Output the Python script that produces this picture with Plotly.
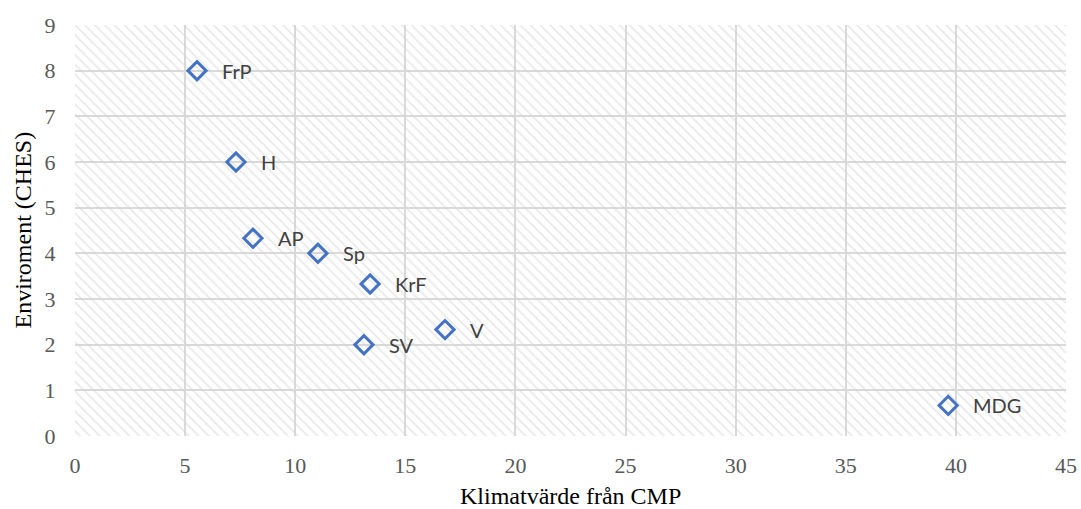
import plotly.graph_objects as go

labels = ["FrP", "H", "AP", "Sp", "KrF", "SV", "V", "MDG"]
x_vals = [5.54, 7.31, 8.08, 11.03, 13.4, 13.12, 16.8, 39.65]
y_vals = [8.0, 6.0, 4.33, 4.0, 3.33, 2.0, 2.33, 0.67]

x_range = [0, 45]
y_range = [0, 9]
x_title = "Klimatvärde från CMP"
y_title = "Enviroment (CHES)"

serif = "'Liberation Serif', 'Times New Roman', serif"
label_font = dict(family="Lato, 'Open Sans', sans-serif", size=20, color="#404040")

fig = go.Figure()

# hatched plot-area background
fig.add_trace(go.Scatter(
    x=[x_range[0], x_range[1], x_range[1], x_range[0], x_range[0]],
    y=[y_range[0], y_range[0], y_range[1], y_range[1], y_range[0]],
    mode="lines", line=dict(width=0), fill="toself",
    fillcolor="rgba(0,0,0,0)",
    fillpattern=dict(shape="\\", fgcolor="#d3d3d3", bgcolor="rgba(0,0,0,0)",
                     size=7, solidity=0.25),
    hoverinfo="skip", showlegend=False,
))

fig.add_trace(go.Scatter(
    x=x_vals, y=y_vals, mode="markers",
    marker=dict(symbol="diamond-open", size=14, color="#4472C4",
                line=dict(width=3, color="#4472C4")),
    showlegend=False, cliponaxis=False,
))

for xv, yv, t in zip(x_vals, y_vals, labels):
    fig.add_annotation(x=xv, y=yv, text=t, showarrow=False, xanchor="left",
                       yanchor="middle", xshift=23, font=label_font)

axis_font = dict(family=serif, size=22, color="#595959")
title_font = dict(family=serif, size=24, color="#000000")

fig.update_xaxes(range=x_range, dtick=5, showgrid=True, gridcolor="#d9d9d9", gridwidth=2,
                 zeroline=False, showline=False, tickfont=axis_font, automargin=False,
                 ticks="outside", ticklen=10, tickcolor="rgba(0,0,0,0)")
fig.update_yaxes(range=y_range, dtick=1, showgrid=True, gridcolor="#d9d9d9", gridwidth=2,
                 zeroline=False, showline=False, tickfont=axis_font, automargin=False,
                 ticks="outside", ticklen=14, tickcolor="rgba(0,0,0,0)")

fig.add_annotation(xref="paper", yref="paper", x=0.5, y=0, yshift=-60, text=x_title,
                   showarrow=False, xanchor="center", yanchor="middle", font=title_font)
fig.add_annotation(xref="paper", yref="paper", x=0, y=0.5, xshift=-53, text=y_title,
                   showarrow=False, xanchor="center", yanchor="middle", textangle=-90,
                   font=title_font)

fig.update_layout(
    width=1081, height=509,
    margin=dict(l=75, r=15, t=25, b=73),
    paper_bgcolor="white", plot_bgcolor="white",
)

fig.write_html("out.html", config={"displayModeBar": False},
               post_script="document.body.style.margin='0';document.body.style.overflow='hidden';")
